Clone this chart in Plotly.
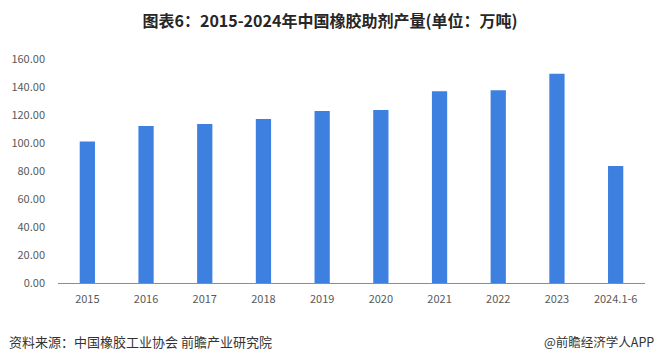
import plotly.graph_objects as go

categories = ["2015", "2016", "2017", "2018", "2019", "2020", "2021", "2022", "2023", "2024.1-6"]
values = [101.0, 112.1, 113.6, 117.1, 122.9, 123.6, 136.9, 137.6, 149.5, 83.6]
y_ticks = [0, 20, 40, 60, 80, 100, 120, 140, 160]
y_tick_labels = [f"{v:.2f}" for v in y_ticks]

title_text = "图表6：2015-2024年中国橡胶助剂产量(单位：万吨)"
source_text = "资料来源：中国橡胶工业协会 前瞻产业研究院"
brand_text = "@前瞻经济学人APP"

fig = go.Figure()
fig.add_trace(go.Bar(
    x=categories, y=values,
    marker=dict(color="#3d80e0", line=dict(width=0)),
    width=0.26,
))

fig.update_layout(
    width=660, height=362,
    margin=dict(l=58, r=15, t=59, b=79),
    paper_bgcolor="white", plot_bgcolor="white",
    showlegend=False,
    font=dict(family="Noto Sans CJK SC, Noto Sans, sans-serif", color="#595959", size=11),
    title=dict(
        text="<b>" + title_text + "</b>",
        x=0.5, xanchor="center", y=1 - 21/362, yanchor="middle",
        font=dict(size=16, color="#262626", family="Noto Sans CJK SC, sans-serif"),
    ),
    xaxis=dict(
        type="category", showgrid=False, showline=True, linecolor="#8c8c8c", linewidth=1,
        ticks="", ticklabelstandoff=6, tickfont=dict(size=11, color="#595959"), fixedrange=True,
    ),
    yaxis=dict(
        range=[0, 160], tickvals=y_ticks, ticktext=y_tick_labels, showgrid=False,
        zeroline=False, showline=False, ticks="", ticklabelstandoff=12,
        tickfont=dict(size=11, color="#595959"), fixedrange=True,
    ),
    annotations=[
        dict(text=source_text, xref="paper", yref="paper", x=-51/587, y=-58/224,
             xanchor="left", yanchor="middle", showarrow=False,
             font=dict(size=13, color="#333333")),
        dict(text=brand_text, xref="paper", yref="paper", x=1 + 11/587, y=-58/224,
             xanchor="right", yanchor="middle", showarrow=False,
             font=dict(size=12.5, color="#333333")),
    ],
)

fig.write_html(
    "out.html",
    config={"displayModeBar": False},
    post_script="document.body.style.margin='0';document.body.style.overflow='hidden';",
)
